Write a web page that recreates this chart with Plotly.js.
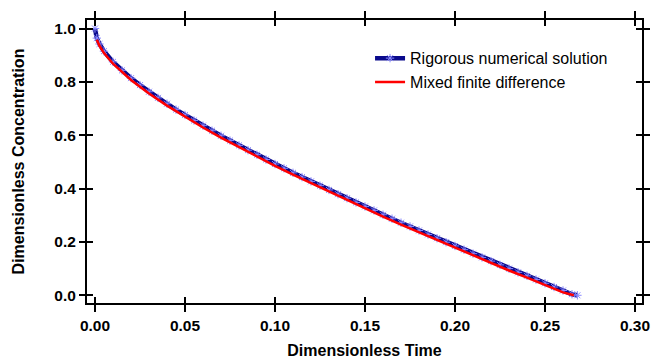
<!DOCTYPE html>
<html>
<head>
<meta charset="utf-8">
<script src="https://cdn.plot.ly/plotly-3.0.1.min.js"></script>
<style>html,body{margin:0;padding:0;background:#fff;}#chart{width:651px;height:359px;}</style>
</head>
<body>
<div id="chart"></div>
<script>
// Rigorous numerical solution
var rigorousTime = [0, 0.001, 0.0025, 0.005, 0.01, 0.015, 0.02, 0.025, 0.03, 0.035, 0.04, 0.045, 0.05, 0.055, 0.06, 0.065, 0.07, 0.075, 0.08, 0.085, 0.09, 0.095, 0.10, 0.105, 0.11, 0.115, 0.12, 0.125, 0.13, 0.135, 0.14, 0.145, 0.15, 0.155, 0.16, 0.165, 0.17, 0.175, 0.18, 0.185, 0.19, 0.195, 0.20, 0.205, 0.21, 0.215, 0.22, 0.225, 0.23, 0.235, 0.24, 0.245, 0.25, 0.255, 0.26, 0.265, 0.268];
var rigorousConc = [1.000, 0.964, 0.942, 0.915, 0.875, 0.843, 0.814, 0.788, 0.763, 0.740, 0.718, 0.696, 0.676, 0.655, 0.636, 0.617, 0.598, 0.580, 0.562, 0.544, 0.527, 0.509, 0.492, 0.476, 0.459, 0.443, 0.427, 0.411, 0.395, 0.379, 0.364, 0.348, 0.333, 0.318, 0.302, 0.287, 0.272, 0.258, 0.243, 0.228, 0.214, 0.199, 0.185, 0.171, 0.156, 0.142, 0.128, 0.114, 0.100, 0.086, 0.073, 0.059, 0.045, 0.031, 0.018, 0.004, 0.000];

// Mixed finite difference
var mixedTime = [0.001, 0.0025, 0.005, 0.01, 0.02, 0.03, 0.04, 0.05, 0.06, 0.07, 0.08, 0.09, 0.10, 0.11, 0.12, 0.13, 0.14, 0.15, 0.16, 0.17, 0.18, 0.19, 0.20, 0.21, 0.22, 0.23, 0.24, 0.25, 0.26, 0.266];
var mixedConc = [0.958, 0.935, 0.908, 0.868, 0.807, 0.756, 0.711, 0.669, 0.629, 0.591, 0.555, 0.520, 0.485, 0.452, 0.420, 0.388, 0.357, 0.326, 0.295, 0.265, 0.236, 0.207, 0.178, 0.149, 0.121, 0.093, 0.066, 0.038, 0.011, 0.000];

var xTickVals = [0, 0.05, 0.10, 0.15, 0.20, 0.25, 0.30];
var yTickVals = [0, 0.2, 0.4, 0.6, 0.8, 1.0];

var FONT = 'Arial, "Liberation Sans", sans-serif';

var traces = [
  {
    x: rigorousTime, y: rigorousConc, type: 'scatter', mode: 'lines+markers',
    name: 'Rigorous numerical solution',
    line: {color: '#0a0a8c', width: 4.5},
    marker: {symbol: 'asterisk-open', size: 7, color: '#8a8aff', line: {color: '#8a8aff', width: 1}}
  },
  {
    x: mixedTime, y: mixedConc, type: 'scatter', mode: 'lines',
    name: 'Mixed finite difference',
    line: {color: '#ff0000', width: 2.5}
  },
  {
    x: [], y: [], xaxis: 'x2', yaxis: 'y2', type: 'scatter', mode: 'lines',
    showlegend: false, hoverinfo: 'skip'
  }
];

var xr = [-0.00444, 0.30389];
var yr = [-0.0289, 1.0319];

var layout = {
  width: 651, height: 359,
  margin: {l: 87, r: 9, t: 20, b: 56, pad: 0},
  paper_bgcolor: '#ffffff', plot_bgcolor: '#ffffff',
  font: {family: FONT, color: '#000000'},
  showlegend: true,
  legend: {
    x: 0.51, y: 0.925, xanchor: 'left', yanchor: 'top',
    font: {family: FONT, size: 16, color: '#000'},
    bgcolor: 'rgba(0,0,0,0)', borderwidth: 0, tracegroupgap: 0
  },
  xaxis: {
    range: xr, tickvals: xTickVals, tickformat: '.2f',
    ticks: 'outside', ticklen: 7, tickwidth: 2, tickcolor: '#000',
    showline: true, linewidth: 2, linecolor: '#000', mirror: 'ticks',
    showgrid: false, zeroline: false,
    tickfont: {family: FONT, size: 15.5, color: '#000', weight: 'bold'},
    title: {text: '<b>Dimensionless Time</b>', font: {family: FONT, size: 16, color: '#000'}, standoff: 12}
  },
  yaxis: {
    range: yr, tickvals: yTickVals, tickformat: '.1f',
    ticks: 'outside', ticklen: 6, tickwidth: 2, tickcolor: '#000',
    showline: true, linewidth: 2, linecolor: '#000', mirror: 'ticks',
    showgrid: false, zeroline: false,
    tickfont: {family: FONT, size: 15.5, color: '#000', weight: 'bold'},
    title: {text: '<b>Dimensionless Concentration</b>', font: {family: FONT, size: 16, color: '#000'}, standoff: 26}
  },
  xaxis2: {
    overlaying: 'x', anchor: 'y2', range: xr, tickvals: xTickVals,
    ticks: 'inside', ticklen: 6, tickwidth: 2, tickcolor: '#000',
    mirror: 'ticks', showline: false, showticklabels: false,
    showgrid: false, zeroline: false
  },
  yaxis2: {
    overlaying: 'y', anchor: 'x2', range: yr, tickvals: yTickVals,
    ticks: 'inside', ticklen: 6, tickwidth: 2, tickcolor: '#000',
    mirror: 'ticks', showline: false, showticklabels: false,
    showgrid: false, zeroline: false
  }
};

Plotly.newPlot('chart', traces, layout, {displayModeBar: false, staticPlot: true});
</script>
</body>
</html>
